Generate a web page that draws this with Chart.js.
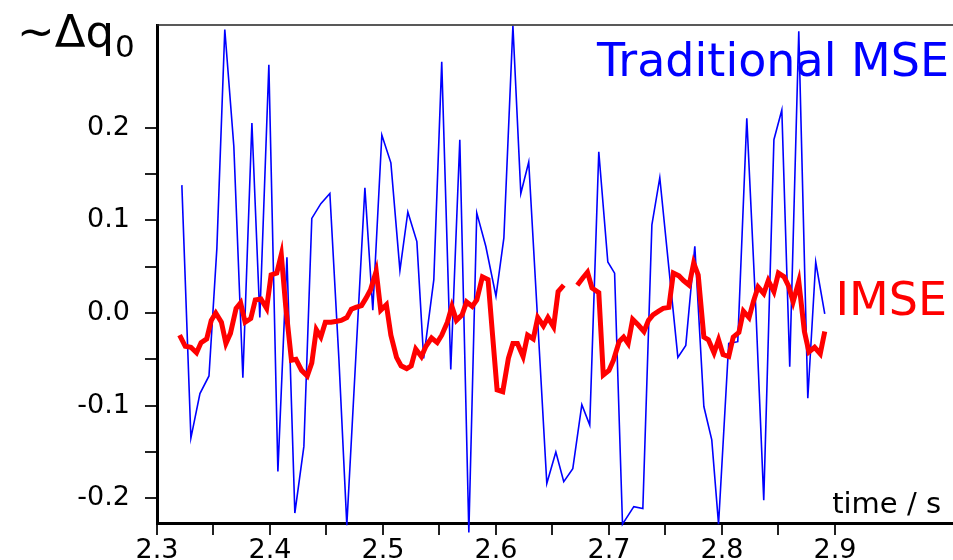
<!DOCTYPE html>
<html>
<head>
<meta charset="utf-8">
<title>Traditional MSE vs IMSE</title>
<script src="https://cdn.jsdelivr.net/npm/chart.js@4.4.1/dist/chart.umd.min.js"></script>
<style>
  html, body { margin: 0; padding: 0; background: #fff; }
  #wrap { position: relative; width: 953px; height: 560px; }
</style>
</head>
<body>
<div id="wrap"><canvas id="chart"></canvas></div>
<script>
// Traditional MSE (thin blue line)
const mseTime = [
  2.322, 2.330, 2.338, 2.346, 2.353, 2.360, 2.368, 2.376, 2.384, 2.391,
  2.399, 2.407, 2.415, 2.422, 2.430, 2.437, 2.445, 2.453, 2.461, 2.468,
  2.476, 2.484, 2.491, 2.499, 2.507, 2.515, 2.522, 2.530, 2.536, 2.545,
  2.552, 2.560, 2.568, 2.576, 2.583, 2.591, 2.600, 2.607, 2.615, 2.622,
  2.629, 2.637, 2.645, 2.653, 2.660, 2.668, 2.676, 2.683, 2.691, 2.699,
  2.705, 2.712, 2.722, 2.730, 2.738, 2.745, 2.753, 2.761, 2.768, 2.776,
  2.784, 2.791, 2.797, 2.806, 2.814, 2.822, 2.830, 2.837, 2.846, 2.853,
  2.860, 2.868, 2.876, 2.883, 2.891
];
const mseValue = [
  0.138, -0.135, -0.087, -0.068, 0.070, 0.306, 0.180, -0.070, 0.205, -0.005,
  0.268, -0.171, 0.060, -0.216, -0.144, 0.102, 0.118, 0.129, -0.050, -0.229,
  -0.047, 0.135, 0.003, 0.192, 0.162, 0.046, 0.109, 0.077, -0.049, 0.036,
  0.271, -0.061, 0.187, -0.237, 0.108, 0.072, 0.018, 0.081, 0.310, 0.129,
  0.163, -0.010, -0.184, -0.150, -0.182, -0.168, -0.099, -0.121, 0.174, 0.055,
  0.043, -0.228, -0.209, -0.211, 0.095, 0.146, 0.049, -0.048, -0.035, 0.072,
  -0.101, -0.137, -0.228, -0.033, -0.031, 0.210, 0.004, -0.202, 0.187, 0.219,
  -0.058, 0.304, -0.092, 0.055, -0.001
];

// IMSE (thick red line), null = missing sample
const imseTime = [
  2.320, 2.325, 2.330, 2.335, 2.339, 2.344, 2.348, 2.352, 2.357, 2.361,
  2.365, 2.370, 2.374, 2.378, 2.383, 2.387, 2.392, 2.397, 2.401, 2.406,
  2.410, 2.414, 2.419, 2.423, 2.428, 2.433, 2.437, 2.441, 2.445, 2.449,
  2.454, 2.459, 2.463, 2.468, 2.472, 2.476, 2.481, 2.485, 2.489, 2.494,
  2.498, 2.503, 2.507, 2.512, 2.516, 2.521, 2.525, 2.529, 2.534, 2.538,
  2.543, 2.548, 2.552, 2.557, 2.561, 2.565, 2.570, 2.574, 2.579, 2.583,
  2.588, 2.593, 2.597, 2.601, 2.606, 2.611, 2.615, 2.619, 2.624, 2.628,
  2.633, 2.637, 2.642, 2.646, 2.651, 2.655, 2.660, 2.666, 2.672, 2.677,
  2.681, 2.685, 2.691, 2.695, 2.700, 2.704, 2.709, 2.713, 2.717, 2.721,
  2.726, 2.731, 2.735, 2.739, 2.744, 2.748, 2.753, 2.757, 2.762, 2.766,
  2.771, 2.775, 2.779, 2.784, 2.788, 2.793, 2.797, 2.801, 2.806, 2.810,
  2.815, 2.819, 2.824, 2.828, 2.832, 2.837, 2.841, 2.846, 2.850, 2.855,
  2.859, 2.863, 2.868, 2.873, 2.877, 2.882, 2.887, 2.891
];
const imseValue = [
  -0.024, -0.036, -0.037, -0.043, -0.032, -0.028, -0.008, 0.000, -0.010, -0.033,
  -0.022, 0.005, 0.011, -0.010, -0.006, 0.014, 0.015, 0.005, 0.041, 0.043,
  0.063, 0.006, -0.051, -0.050, -0.062, -0.068, -0.054, -0.018, -0.026, -0.010,
  -0.010, -0.009, -0.008, -0.005, 0.004, 0.006, 0.008, 0.016, 0.025, 0.045,
  0.003, 0.009, -0.024, -0.048, -0.057, -0.060, -0.057, -0.039, -0.047, -0.036,
  -0.027, -0.032, -0.024, -0.010, 0.007, -0.008, -0.002, 0.012, 0.007, 0.014,
  0.039, 0.036, -0.024, -0.083, -0.085, -0.049, -0.033, -0.033, -0.047, -0.024,
  -0.028, -0.005, -0.014, -0.005, -0.015, 0.023, 0.030, null, 0.030, 0.038,
  0.044, 0.027, 0.022, -0.067, -0.062, -0.051, -0.031, -0.026, -0.033, -0.007,
  -0.013, -0.020, -0.008, -0.002, 0.002, 0.005, 0.006, 0.043, 0.040, 0.035,
  0.030, 0.054, 0.041, -0.026, -0.029, -0.043, -0.029, -0.045, -0.047, -0.026,
  -0.021, 0.002, -0.005, 0.013, 0.028, 0.021, 0.035, 0.023, 0.043, 0.039,
  0.029, 0.012, 0.034, -0.020, -0.042, -0.037, -0.044, -0.020
];

// tick positions (every 0.05, labelled every 0.1)
const xTicks = [2.3, 2.35, 2.4, 2.45, 2.5, 2.55, 2.6, 2.65, 2.7, 2.75, 2.8, 2.85, 2.9];
const yTicks = [-0.2, -0.15, -0.1, -0.05, 0.0, 0.05, 0.1, 0.15, 0.2];

const FONT = 'DejaVu Sans';

function tickLabel(v) {
  const tenths = v * 10;
  if (Math.abs(tenths - Math.round(tenths)) > 1e-6) return '';
  return (Math.round(tenths) / 10).toFixed(1);
}

// top spine plus the free-floating labels
const decorations = {
  id: 'decorations',
  afterDraw(chart) {
    const { ctx, chartArea } = chart;
    ctx.save();
    ctx.strokeStyle = '#222';
    ctx.lineWidth = 1.5;
    ctx.beginPath();
    ctx.moveTo(chartArea.left, chartArea.top);
    ctx.lineTo(chart.width, chartArea.top);
    ctx.stroke();

    ctx.textBaseline = 'alphabetic';
    ctx.fillStyle = '#000';
    ctx.textAlign = 'left';
    ctx.font = `45px "${FONT}"`;
    ctx.fillText('~Δq', 17, 47);
    const w = ctx.measureText('~Δq').width;
    ctx.font = `31px "${FONT}"`;
    ctx.fillText('0', 17 + w + 1, 57);

    ctx.textAlign = 'right';
    ctx.font = `29px "${FONT}"`;
    ctx.fillText('time / s', 941, 513);

    ctx.font = `46px "${FONT}"`;
    ctx.fillStyle = '#0000ff';
    ctx.fillText('Traditional MSE', 949, 76);
    ctx.fillStyle = '#ff0000';
    ctx.fillText('IMSE', 947, 315);
    ctx.restore();
  }
};

const ctx = document.getElementById('chart');
new Chart(ctx, {
  type: 'line',
  data: {
    datasets: [
      {
        label: 'IMSE',
        data: imseTime.map((t, i) => ({ x: t, y: imseValue[i] })),
        borderColor: '#ff0000',
        borderWidth: 5,
        pointRadius: 0,
        tension: 0,
        spanGaps: false,
        clip: false
      },
      {
        label: 'Traditional MSE',
        data: mseTime.map((t, i) => ({ x: t, y: mseValue[i] })),
        borderColor: '#0000ff',
        borderWidth: 1.6,
        pointRadius: 0,
        tension: 0,
        clip: false
      }
    ]
  },
  options: {
    responsive: true,
    maintainAspectRatio: false,
    animation: false,
    layout: { padding: { top: 25, right: 0, left: 0, bottom: 0 } },
    plugins: {
      legend: { display: false },
      tooltip: { enabled: false }
    },
    scales: {
      x: {
        type: 'linear',
        min: 2.3,
        max: 3.0045,
        afterBuildTicks: s => { s.ticks = xTicks.map(v => ({ value: v })); },
        afterFit: s => { s.height = 37; s.paddingLeft = 0; s.paddingRight = 0; },
        border: { display: true, color: '#000', width: 3 },
        grid: { drawOnChartArea: false, drawTicks: true, tickLength: 12, tickColor: '#222', lineWidth: 2 },
        ticks: {
          color: '#000',
          padding: 0,
          maxRotation: 0,
          autoSkip: false,
          font: { family: FONT, size: 27 },
          callback: v => tickLabel(v)
        }
      },
      y: {
        type: 'linear',
        min: -0.2267,
        max: 0.3108,
        afterBuildTicks: s => { s.ticks = yTicks.map(v => ({ value: v })); },
        afterFit: s => { s.width = 157; s.paddingTop = 0; s.paddingBottom = 0; },
        border: { display: true, color: '#000', width: 3 },
        grid: { drawOnChartArea: false, drawTicks: true, tickLength: 12, tickColor: '#222', lineWidth: 2 },
        ticks: {
          color: '#000',
          padding: 15,
          autoSkip: false,
          font: { family: FONT, size: 27 },
          callback: v => tickLabel(v)
        }
      }
    }
  },
  plugins: [decorations]
});
</script>
</body>
</html>
